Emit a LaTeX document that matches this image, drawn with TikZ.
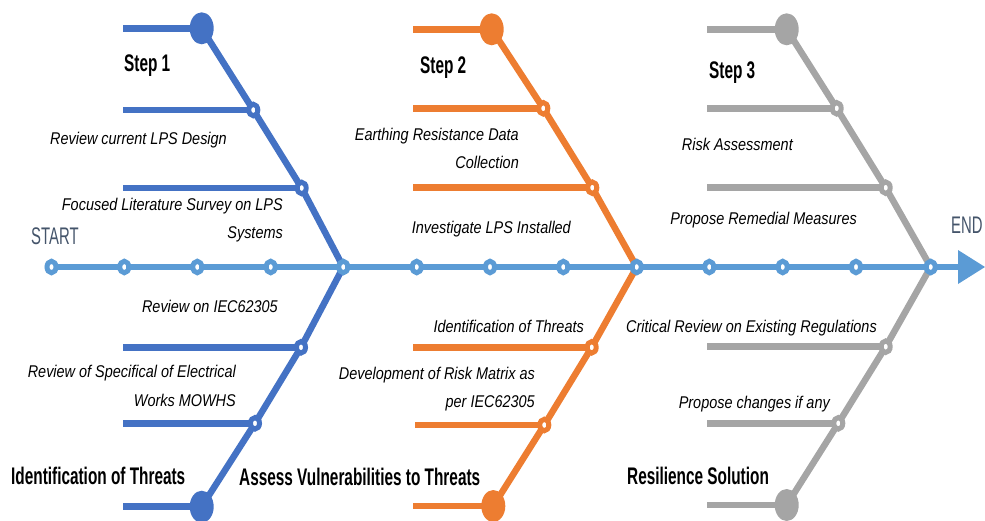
\documentclass[tikz,border=0pt]{standalone}
\usepackage{fontspec}
\setmainfont{Liberation Sans}
\newfontfamily\labfont[FakeStretch=0.85]{Liberation Sans}
\newfontfamily\headfont[FakeStretch=0.64]{Liberation Sans}
\newfontfamily\endsfont[FakeStretch=0.62]{Liberation Sans}
\usetikzlibrary{shapes.geometric}
\definecolor{cblue}{HTML}{4472C4}
\definecolor{corange}{HTML}{ED7D31}
\definecolor{cgray}{HTML}{A5A5A5}
\definecolor{cspine}{HTML}{5B9BD5}
\definecolor{cslate}{HTML}{44546A}
\tikzset{
  lab/.style={font=\labfont\itshape\fontsize{17}{20}\selectfont, inner sep=0pt, anchor=base east},
  head/.style={font=\headfont\bfseries\fontsize{24}{28}\selectfont, inner sep=0pt, anchor=base west},
  ends/.style={font=\endsfont\fontsize{24}{28}\selectfont, text=cslate, inner sep=0pt, anchor=base west},
  bone/.style={line width=6.5pt, draw=#1},
  bigdot/.style={ellipse, fill=#1, minimum width=24pt, minimum height=32pt, inner sep=0pt},
  joint/.style={ellipse, draw=#1, fill=white, line width=5pt, minimum width=9pt, minimum height=11.5pt, inner sep=0pt},
}
\begin{document}
\begin{tikzpicture}[x=1pt,y=-1pt]
\useasboundingbox (0,0) rectangle (985,520);
% spine coordinates
\foreach \i/\x in {0/51.5,1/124.3,2/197.3,3/270.7,4/343.3,5/416.7,6/490,7/563.3,8/636.7,9/709.3,10/782.7,11/856,12/930.7}
  \coordinate (s\i) at (\x,267);
\coordinate (sEnd) at (958,267);
\coordinate (aTop) at (958,250);
\coordinate (aTip) at (985,267);
\coordinate (aBot) at (958,284);
% blue
\coordinate (bT) at (201.7,28.3);  \coordinate (bTL) at (123,28.3);
\coordinate (b1) at (253.3,110);   \coordinate (b1L) at (123,110);
\coordinate (b2) at (301.7,188);   \coordinate (b2L) at (123,188);
\coordinate (b3) at (301,347.3);   \coordinate (b3L) at (123,347.3);
\coordinate (b4) at (255,423.3);   \coordinate (b4L) at (123,423.3);
\coordinate (bB) at (201.7,506.7); \coordinate (bBL) at (123,506.7);
% orange
\coordinate (oT) at (491.7,29.3);  \coordinate (oTL) at (413,29.3);
\coordinate (o1) at (543.3,108.3); \coordinate (o1L) at (413,108.3);
\coordinate (o2) at (592.3,187.7); \coordinate (o2L) at (413,187.7);
\coordinate (o3) at (591.7,347.3); \coordinate (o3L) at (413,347.3);
\coordinate (o4) at (544.3,425);   \coordinate (o4L) at (415,425);
\coordinate (oB) at (493.3,506);   \coordinate (oBL) at (413,506);
% gray
\coordinate (gT) at (786.7,29.3);  \coordinate (gTL) at (707,29.3);
\coordinate (g1) at (836.7,108.3); \coordinate (g1L) at (707,108.3);
\coordinate (g2) at (885.7,187.7); \coordinate (g2L) at (707,187.7);
\coordinate (g3) at (885.7,346.7); \coordinate (g3L) at (707,346.7);
\coordinate (g4) at (838.3,423.3); \coordinate (g4L) at (707,423.3);
\coordinate (gB) at (786.7,505);   \coordinate (gBL) at (707,505);

% bones
\draw[bone=cblue] (bT) -- (b1) -- (b2) -- (s4) -- (b3) -- (b4) -- (bB);
\draw[bone=cblue] (bTL) -- (bT) (b1L) -- (b1) (b2L) -- (b2) (b3L) -- (b3) (b4L) -- (b4) (bBL) -- (bB);
\draw[bone=corange] (oT) -- (o1) -- (o2) -- (s8) -- (o3) -- (o4) -- (oB);
\draw[bone=corange] (oTL) -- (oT) (o1L) -- (o1) (o2L) -- (o2) (o3L) -- (o3) (o4L) -- (o4) (oBL) -- (oB);
\draw[bone=cgray] (gT) -- (g1) -- (g2) -- (s12) -- (g3) -- (g4) -- (gB);
\draw[bone=cgray] (gTL) -- (gT) (g1L) -- (g1) (g2L) -- (g2) (g3L) -- (g3) (g4L) -- (g4) (gBL) -- (gB);

% spine
\draw[bone=cspine] (s0) -- (sEnd);
\fill[cspine] (aTop) -- (aTip) -- (aBot) -- cycle;
\foreach \i in {0,...,12} \node[joint=cspine] (sd\i) at (s\i) {};

% joints
\foreach \c/\n in {cblue/b1,cblue/b2,cblue/b3,cblue/b4,corange/o1,corange/o2,corange/o3,corange/o4,cgray/g1,cgray/g2,cgray/g3,cgray/g4}
  \node[joint=\c] (j\n) at (\n) {};
\node[bigdot=cblue] (dbT) at (bT) {};
\node[bigdot=cblue] (dbB) at (bB) {};
\node[bigdot=corange] (doT) at (oT) {};
\node[bigdot=corange] (doB) at (oB) {};
\node[bigdot=cgray] (dgT) at (gT) {};
\node[bigdot=cgray] (dgB) at (gB) {};

% labels
\node[lab] (t1) at (227,144) {Review current LPS Design};
\node[lab] (t2) at (283,210.5) {Focused Literature Survey on LPS};
\node[lab] (t2b) at (283,238) {Systems};
\node[lab] (t3) at (278,312.5) {Review on IEC62305};
\node[lab] (t4) at (236,377) {Review of Specifical of Electrical};
\node[lab] (t4b) at (236,406) {Works MOWHS};
\node[lab] (t5) at (519,140) {Earthing Resistance Data};
\node[lab] (t5b) at (519,168) {Collection};
\node[lab] (t6) at (571,233) {Investigate LPS Installed};
\node[lab] (t7) at (584,332) {Identification of Threats};
\node[lab] (t8) at (535,379) {Development of Risk Matrix as};
\node[lab] (t8b) at (535,407) {per IEC62305};
\node[lab] (t9) at (793,150) {Risk Assessment};
\node[lab] (t10) at (857,224) {Propose Remedial Measures};
\node[lab] (t11) at (877,332.5) {Critical Review on Existing Regulations};
\node[lab] (t12) at (830,408) {Propose changes if any};

\node[head] (h1) at (124,71) {Step 1};
\node[head] (h2) at (420,73) {Step 2};
\node[head] (h3) at (709,78) {Step 3};
\node[head] (h4) at (11,484) {Identification of Threats};
\node[head] (h5) at (239,485) {Assess Vulnerabilities to Threats};
\node[head] (h6) at (627,484) {Resilience Solution};

\node[ends] (start) at (31,244) {START};
\node[ends] (end) at (951,233) {END};
\end{tikzpicture}
\end{document}
